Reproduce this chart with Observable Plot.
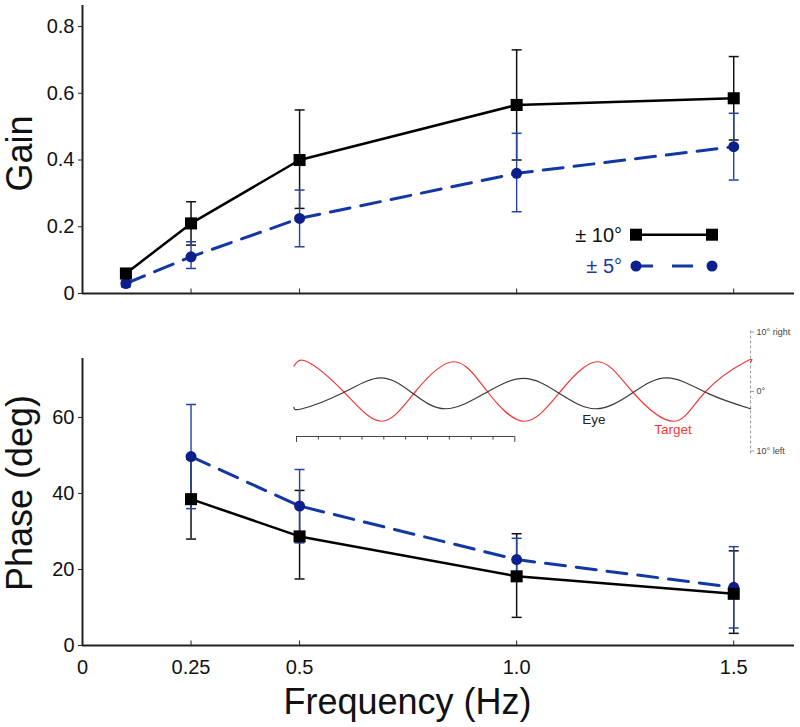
<!DOCTYPE html>
<html><head><meta charset="utf-8">
<script src="https://cdn.jsdelivr.net/npm/d3@7"></script>
<script src="https://cdn.jsdelivr.net/npm/@observablehq/plot@0.6"></script>
<style>
body{margin:0;background:#fff;}
#wrap{position:relative;width:800px;height:727px;font-family:"Liberation Sans",Arial,Helvetica,sans-serif;}
#wrap svg{position:absolute;left:0;}
</style></head><body><div id="wrap"></div>
<script>
// ---------- data ----------
const freqGain = [0.1, 0.25, 0.5, 1.0, 1.5];
const gain10   = [0.06, 0.21, 0.40, 0.565, 0.585];
const gain10Lo = [0.06, 0.145, 0.255, 0.40, 0.46];
const gain10Hi = [0.06, 0.275, 0.55, 0.73, 0.71];
const gain5    = [0.03, 0.11, 0.225, 0.36, 0.44];
const gain5Lo  = [0.02, 0.075, 0.14, 0.245, 0.34];
const gain5Hi  = [0.04, 0.155, 0.31, 0.48, 0.54];

const freqPhase = [0.25, 0.5, 1.0, 1.5];
const phase10   = [38.5, 28.7, 18.2, 13.6];
const phase10Lo = [28, 17.5, 7.4, 3.2];
const phase10Hi = [49, 40.8, 29.4, 24.9];
const phase5    = [49.7, 36.7, 22.6, 15.3];
const phase5Lo  = [36, 27, 17, 4.6];
const phase5Hi  = [63.4, 46.3, 28.2, 26];

const xTicks = [0, 0.25, 0.5, 1.0, 1.5];
const xTickLabels = ["0", "0.25", "0.5", "1.0", "1.5"];
const gainTicks = [0, 0.2, 0.4, 0.6, 0.8];
const gainTickLabels = ["0", "0.2", "0.4", "0.6", "0.8"];
const phaseTicks = [0, 20, 40, 60];
const seriesLabels = ["± 10°", "± 5°"];

// inset traces (time in s, position in deg)
const targetT   = [-0.012, 0.049, 0.215, 0.388, 0.545, 0.721, 0.874, 1.044, 1.209, 1.380, 1.538, 1.728, 1.874, 2.057, 2.080];
const targetDeg = [4.25, 5, 0, -5, 0, 5, 0, -5, 0, 5, 0, -5, 0, 5, 4.9];
const eyeT      = [-0.012, 0.026, 0.206, 0.385, 0.534, 0.683, 0.861, 1.040, 1.205, 1.370, 1.535, 1.698, 1.887, 2.080];
const eyeDeg    = [-2.64, -2.9, -0.35, 2.3, -0.35, -2.9, -0.35, 2.2, -0.35, -2.9, -0.35, 2.3, -0.35, -2.9];
const scaleBarTicks = [0, 0.1, 0.2, 0.3, 0.4, 0.5, 0.6, 0.7, 0.8, 0.9, 1.0];
const insetTicks = [-10, 0, 10];
const insetTickLabels = ["10° left", "0°", "10° right"];
const traceLabels = ["Eye", "Target"];

// ---------- styling ----------
const FONT = '"Liberation Sans", Arial, Helvetica, sans-serif';
const BLACK = "#000";
const BLUE_LINE = "#1337a3";
const BLUE_DOT = "#0d1f8c";
const BLUE_ERR = "#2443a6";
const BLUE_TEXT = "#1a3a9e";
const AXIS = "#222";
const DASH = "20,11";

const cap = {draw(ctx, size) { const w = Math.sqrt(size / Math.PI); ctx.moveTo(-w, 0); ctx.lineTo(w, 0); }};
const vtick = {draw(ctx, size) { const w = Math.sqrt(size / Math.PI); ctx.moveTo(0, -w); ctx.lineTo(0, w); }};

const rows = (fs, v, lo, hi) => fs.map((f, i) => ({f, v: v[i], lo: lo[i], hi: hi[i]}));
const g10 = rows(freqGain, gain10, gain10Lo, gain10Hi);
const g5 = rows(freqGain, gain5, gain5Lo, gain5Hi);
const p10 = rows(freqPhase, phase10, phase10Lo, phase10Hi);
const p5 = rows(freqPhase, phase5, phase5Lo, phase5Hi);

function seriesMarks(r10, r5) {
  return [
    Plot.ruleX(r10, {x: "f", y1: "lo", y2: "hi", stroke: "#111", strokeWidth: 1.5}),
    Plot.dot(r10, {x: "f", y: "lo", symbol: cap, r: 5, stroke: "#111", fill: "none", strokeWidth: 1.5}),
    Plot.dot(r10, {x: "f", y: "hi", symbol: cap, r: 5, stroke: "#111", fill: "none", strokeWidth: 1.5}),
    Plot.ruleX(r5, {x: "f", y1: "lo", y2: "hi", stroke: BLUE_ERR, strokeWidth: 1.4}),
    Plot.dot(r5, {x: "f", y: "lo", symbol: cap, r: 5, stroke: BLUE_ERR, fill: "none", strokeWidth: 1.5}),
    Plot.dot(r5, {x: "f", y: "hi", symbol: cap, r: 5, stroke: BLUE_ERR, fill: "none", strokeWidth: 1.5}),
    Plot.line(r5, {x: "f", y: "v", stroke: BLUE_LINE, strokeWidth: 3, strokeDasharray: DASH}),
    Plot.dot(r5, {x: "f", y: "v", r: 5.5, fill: BLUE_DOT, stroke: "none"}),
    Plot.line(r10, {x: "f", y: "v", stroke: BLACK, strokeWidth: 2.5}),
    Plot.dot(r10, {x: "f", y: "v", symbol: "square", r: 6.8, fill: BLACK, stroke: "none"})
  ];
}
// inward x ticks at the bottom of the frame
const inwardTicks = () => Plot.dot(xTicks.slice(1), {x: d => d, frameAnchor: "bottom", symbol: vtick, r: 2.5, dy: -2.5, stroke: AXIS, strokeWidth: 1, fill: "none"});

const wrap = document.getElementById("wrap");

// ---------- top panel (Gain) ----------
const topPlot = Plot.plot({
  width: 800, height: 305,
  marginLeft: 82, marginRight: 6, marginTop: 5, marginBottom: 12,
  style: {fontFamily: FONT, fontSize: "20px", color: "#111", background: "transparent", overflow: "visible"},
  x: {domain: [0, 1.64], axis: null},
  y: {domain: [0, 0.863]},
  marks: [
    Plot.axisY({ticks: gainTicks, tickSize: 4, tickPadding: 4, tickFormat: (d, i) => gainTickLabels[i], label: null, stroke: AXIS}),
    inwardTicks(),
    Plot.ruleX([0], {stroke: AXIS, strokeWidth: 2}),
    Plot.ruleY([0], {stroke: AXIS, strokeWidth: 2}),
    ...seriesMarks(g10, g5),
    Plot.text(["Gain"], {frameAnchor: "left", rotate: -90, dx: -62, dy: 4, fontSize: 36, fill: "#111", textAnchor: "middle", lineAnchor: "middle"})
  ]
});
topPlot.style.top = "0px";
wrap.appendChild(topPlot);

// legend for the two amplitudes
const leg = d3.create("svg").attr("width", 800).attr("height", 305).style("top", "0px").style("pointer-events", "none");
const legRows = [
  {label: seriesLabels[0], y: 234.7, color: "#111", line: BLACK, dash: null, sym: "square"},
  {label: seriesLabels[1], y: 266, color: BLUE_TEXT, line: BLUE_LINE, dash: "17,19,21,19", sym: "circle"}
];
for (const r of legRows) {
  leg.append("text").attr("x", 622).attr("y", r.y).attr("text-anchor", "end").attr("dy", "0.35em")
    .attr("font-family", FONT).attr("font-size", 20).attr("fill", r.color).text(r.label);
  leg.append("line").attr("x1", 636).attr("x2", 712).attr("y1", r.y).attr("y2", r.y)
    .attr("stroke", r.line).attr("stroke-width", r.sym === "square" ? 2.5 : 3).attr("stroke-dasharray", r.dash);
  for (const x of [636, 712]) {
    if (r.sym === "square") leg.append("rect").attr("x", x - 6).attr("y", r.y - 6).attr("width", 12).attr("height", 12).attr("fill", BLACK);
    else leg.append("circle").attr("cx", x).attr("cy", r.y).attr("r", 5.5).attr("fill", BLUE_DOT);
  }
}
wrap.appendChild(leg.node());

// ---------- bottom panel (Phase) ----------
const botPlot = Plot.plot({
  width: 800, height: 422,
  marginLeft: 82, marginRight: 6, marginTop: 53, marginBottom: 82,
  style: {fontFamily: FONT, fontSize: "20px", color: "#111", background: "transparent", overflow: "visible"},
  x: {domain: [0, 1.64]},
  y: {domain: [0, 75.5]},
  marks: [
    Plot.axisY({ticks: phaseTicks, tickSize: 4, tickPadding: 4, label: null, stroke: AXIS}),
    Plot.axisX({ticks: xTicks, tickSize: 0, tickPadding: 14, tickFormat: (d, i) => xTickLabels[i], label: null}),
    inwardTicks(),
    Plot.ruleX([0], {stroke: AXIS, strokeWidth: 2}),
    Plot.ruleY([0], {stroke: AXIS, strokeWidth: 2}),
    ...seriesMarks(p10, p5),
    Plot.text(["Phase (deg)"], {frameAnchor: "left", rotate: -90, dx: -62, dy: -9, fontSize: 36, fill: "#111", textAnchor: "middle", lineAnchor: "middle"}),
    Plot.text(["Frequency (Hz)"], {frameAnchor: "bottom", dx: -31, dy: 57, fontSize: 36, fill: "#111", textAnchor: "middle", lineAnchor: "middle"})
  ]
});
botPlot.style.top = "305px";
wrap.appendChild(botPlot);

// ---------- inset: eye and target traces ----------
const tEnd = targetT[targetT.length - 1];
const pxPerSec = 218.3;
const target = targetT.map((t, i) => ({t, v: targetDeg[i]}));
const eye = eyeT.map((t, i) => ({t, v: eyeDeg[i]}));
const sbY = -7.56;
const inset = Plot.plot({
  width: 800, height: 160,
  marginLeft: 296, marginRight: 800 - 296 - tEnd * pxPerSec, marginTop: 26.5, marginBottom: 14.5,
  style: {fontFamily: FONT, fontSize: "9px", color: "#444", background: "transparent", overflow: "visible"},
  x: {domain: [0, tEnd], axis: null},
  y: {domain: [-10, 10], axis: null},
  marks: [
    Plot.ruleX([tEnd], {y1: -10.5, y2: 10.5, stroke: "#9a9a9a", strokeWidth: 1, strokeDasharray: "3,2"}),
    Plot.axisY({anchor: "right", ticks: insetTicks, tickSize: 3, tickPadding: 3, tickFormat: (d, i) => insetTickLabels[i], label: null, stroke: "#999", textAnchor: "start"}),
    Plot.line(target, {x: "t", y: "v", stroke: "#f03a3a", strokeWidth: 1.2, curve: "natural"}),
    Plot.line(eye, {x: "t", y: "v", stroke: "#3a3a3a", strokeWidth: 1.2, curve: "natural"}),
    Plot.ruleY([sbY], {x1: scaleBarTicks[0], x2: scaleBarTicks[scaleBarTicks.length - 1], stroke: "#444", strokeWidth: 1}),
    Plot.ruleX(scaleBarTicks, {x: d => d, y1: sbY, y2: (d, i) => (i === 0 || i === scaleBarTicks.length - 1) ? sbY - 1 : sbY - 0.6, stroke: "#444", strokeWidth: 1}),
    Plot.text([traceLabels[0]], {x: 1.362, y: -4.76, fontSize: 13.5, fill: "#222"}),
    Plot.text([traceLabels[1]], {x: 1.725, y: -6.44, fontSize: 13.5, fill: "#f03a3a"})
  ]
});
inset.style.top = "305px";
inset.style.pointerEvents = "none";
wrap.appendChild(inset);
</script>
</body></html>
